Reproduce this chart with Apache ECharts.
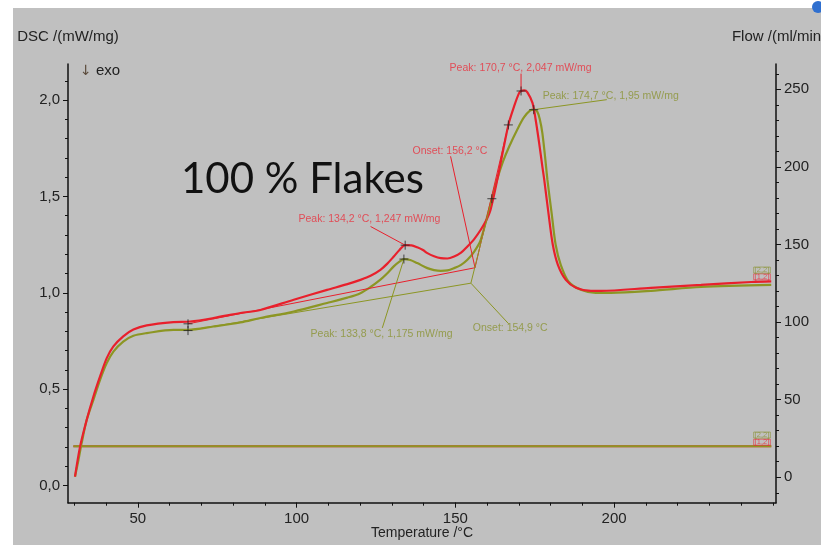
<!DOCTYPE html>
<html>
<head>
<meta charset="utf-8">
<script src="https://cdn.jsdelivr.net/npm/echarts@6/dist/echarts.min.js"></script>
<style>
html,body{margin:0;padding:0;background:#ffffff;}
#c{width:821px;height:545px;}
</style>
</head>
<body>
<div id="c"></div>
<script>
// ---------- data ----------
const tempMajorTicks = [50, 100, 150, 200];
const tempMinorTicks = [30, 40, 50, 60, 70, 80, 90, 100, 110, 120, 130, 140, 150, 160, 170, 180, 190, 200, 210, 220, 230, 240, 250];
const dscMajorTicks = [0, 0.5, 1.0, 1.5, 2.0];
const dscMinorTicks = [0, 0.1, 0.2, 0.3, 0.4, 0.5, 0.6, 0.7, 0.8, 0.9, 1.0, 1.1, 1.2, 1.3, 1.4, 1.5, 1.6, 1.7, 1.8, 1.9, 2.0, 2.1];
const flowMajorTicks = [0, 50, 100, 150, 200, 250];
const flowMinorTicks = [-10, 0, 10, 20, 30, 40, 50, 60, 70, 80, 90, 100, 110, 120, 130, 140, 150, 160, 170, 180, 190, 200, 210, 220, 230, 240, 250, 260];

// DSC curve, sample [1,2] (red)
const redTemp = [30.2, 31.8, 33.9, 36.0, 38.1, 40.2, 42.3, 45.4, 48.6, 52.8, 61.2, 66.5, 73.8, 82.3, 88.6, 99.1, 109.6, 116.0, 120.1, 123.3, 126.4, 128.5, 130.6, 132.4, 134.2, 136.2, 138.0, 139.8, 141.2, 143.3, 145.4, 147.5, 149.6, 151.8, 153.8, 156.0, 158.0, 159.7, 161.1, 163.5, 166.7, 168.5, 170.1, 170.7, 171.7, 172.7, 174.3, 175.3, 176.4, 177.4, 178.0, 179.4, 180.7, 182.3, 184.8, 188.0, 192.7, 195.8, 211.6, 227.4, 243.2, 249.5];
const redDsc  = [0.046, 0.202, 0.341, 0.462, 0.566, 0.661, 0.722, 0.774, 0.809, 0.831, 0.848, 0.851, 0.869, 0.895, 0.911, 0.964, 1.015, 1.045, 1.067, 1.088, 1.119, 1.150, 1.188, 1.222, 1.247, 1.246, 1.236, 1.222, 1.206, 1.190, 1.180, 1.178, 1.188, 1.208, 1.240, 1.280, 1.327, 1.375, 1.431, 1.610, 1.871, 1.967, 2.037, 2.047, 2.050, 2.040, 1.985, 1.898, 1.777, 1.656, 1.587, 1.404, 1.249, 1.145, 1.067, 1.026, 1.010, 1.010, 1.026, 1.041, 1.056, 1.059];

// DSC curve, sample [2,2] (olive)
const oliveTemp = [30.2, 31.3, 32.3, 33.9, 36.0, 38.1, 40.2, 42.3, 45.4, 48.6, 52.8, 61.2, 65.8, 73.8, 82.3, 88.6, 99.1, 109.6, 116.0, 120.1, 123.3, 126.4, 128.5, 130.6, 132.3, 133.8, 135.8, 138.0, 141.2, 143.3, 145.4, 147.5, 149.6, 151.8, 153.8, 156.0, 158.0, 161.5, 163.2, 165.0, 167.0, 169.6, 171.6, 173.5, 174.7, 175.8, 176.6, 177.4, 178.3, 179.0, 180.4, 181.6, 183.2, 185.7, 189.5, 194.2, 199.0, 211.6, 227.4, 249.5];
const oliveDsc  = [0.046, 0.133, 0.220, 0.341, 0.444, 0.548, 0.635, 0.695, 0.747, 0.777, 0.791, 0.808, 0.808, 0.825, 0.846, 0.869, 0.903, 0.947, 0.975, 0.998, 1.030, 1.068, 1.100, 1.137, 1.160, 1.175, 1.170, 1.154, 1.128, 1.118, 1.114, 1.116, 1.128, 1.145, 1.171, 1.215, 1.275, 1.488, 1.590, 1.680, 1.760, 1.850, 1.910, 1.945, 1.950, 1.940, 1.900, 1.830, 1.700, 1.587, 1.404, 1.249, 1.145, 1.057, 1.016, 1.000, 1.000, 1.010, 1.030, 1.041];

// Flow curves (ml/min)
const flowTemp = [29.7, 249.5];
const redFlow = [20, 20];
const oliveFlow = [20, 20];

// Evaluation marks (+): [temperature, dsc]
const redMarks = [[65.8, 0.839], [134.2, 1.247], [166.7, 1.871], [170.7, 2.047]];
const oliveMarks = [[65.8, 0.804], [133.8, 1.175], [161.5, 1.488], [174.7, 1.95]];

// Evaluation lines (baseline, tangent, leaders): pairs of [temperature, dsc]
const redLines = [
  [[65.8, 0.839], [156.2, 1.13]],
  [[156.2, 1.13], [166.7, 1.871]],
  [[148.5, 1.708], [156.2, 1.13]],
  [[170.7, 2.137], [170.7, 2.047]],
  [[123.3, 1.344], [134.2, 1.247]]
];
const oliveLines = [
  [[65.8, 0.804], [154.9, 1.05]],
  [[154.9, 1.05], [161.5, 1.488]],
  [[154.9, 1.05], [166.8, 0.839]],
  [[174.7, 1.95], [197.7, 2.002]],
  [[133.8, 1.175], [127.0, 0.818]]
];

// Evaluation texts: [temperature, dsc, text]
const redTexts = [
  [148.2, 2.168, 'Peak: 170,7 °C, 2,047 mW/mg'],
  [136.5, 1.737, 'Onset: 156,2 °C'],
  [100.6, 1.384, 'Peak: 134,2 °C, 1,247 mW/mg']
];
const oliveTexts = [
  [177.5, 2.021, 'Peak: 174,7 °C, 1,95 mW/mg'],
  [104.4, 0.787, 'Peak: 133,8 °C, 1,175 mW/mg'],
  [155.5, 0.818, 'Onset: 154,9 °C']
];

// curve tags
const dscTags = [[246.6, 1.083, '[1,2]', 'red'], [246.6, 1.118, '[2,2]', 'olive']];
const flowTags = [[246.6, 22.6, '[1,2]', 'red'], [246.6, 27.2, '[2,2]', 'olive']];

// ---------- style ----------
const RED = '#e8202c';
const OLIVE = '#8c9624';
const RED_TXT = '#e8303c';
const OLIVE_TXT = '#8a9232';
const AX = '#111111';
const FONT = 'Liberation Sans, Arial, sans-serif';

const zip = (a, b) => a.map((v, i) => [v, b[i]]);
const fmtDsc = v => v.toFixed(1).replace('.', ',');

const series = [];
series.push({ type: 'line', yAxisIndex: 1, data: zip(flowTemp, redFlow), showSymbol: false, lineStyle: { color: RED, width: 2 }, silent: true, z: 2 });
series.push({ type: 'line', yAxisIndex: 1, data: zip(flowTemp, oliveFlow), showSymbol: false, lineStyle: { color: OLIVE, width: 2 }, silent: true, z: 3 });
series.push({ type: 'line', data: zip(oliveTemp, oliveDsc), showSymbol: false, smooth: 0.3, lineStyle: { color: OLIVE, width: 2.2 }, silent: true, z: 3 });
series.push({ type: 'line', data: zip(redTemp, redDsc), showSymbol: false, smooth: 0.3, lineStyle: { color: RED, width: 2.2 }, silent: true, z: 4 });
redLines.forEach(seg => series.push({ type: 'line', data: seg, showSymbol: false, lineStyle: { color: RED, width: 1 }, silent: true, z: 5 }));
oliveLines.forEach(seg => series.push({ type: 'line', data: seg, showSymbol: false, lineStyle: { color: OLIVE, width: 1 }, silent: true, z: 5 }));
series.push({
  type: 'scatter', data: redMarks.concat(oliveMarks), symbol: 'path://M0,5L10,5M5,0L5,10', symbolSize: 9,
  itemStyle: { color: 'rgba(0,0,0,0)', borderColor: '#222', borderWidth: 1 }, silent: true, z: 6
});
series.push({
  type: 'scatter', symbolSize: 0, silent: true, z: 7,
  data: redTexts.map(d => ({ value: [d[0], d[1]], label: { color: RED_TXT, formatter: d[2] } }))
    .concat(oliveTexts.map(d => ({ value: [d[0], d[1]], label: { color: OLIVE_TXT, formatter: d[2] } }))),
  label: { show: true, position: 'right', distance: 0, fontSize: 10.5, fontFamily: FONT }
});
const tagItem = d => ({
  value: [d[0], d[1]],
  label: { formatter: d[2], color: d[3] === 'red' ? RED_TXT : OLIVE_TXT, borderColor: d[3] === 'red' ? RED_TXT : OLIVE_TXT }
});
series.push({
  type: 'scatter', symbolSize: 0, silent: true, z: 7, data: dscTags.map(tagItem),
  label: { show: true, position: 'inside', fontSize: 7.5, fontFamily: FONT, borderWidth: 0.8, padding: [0, 1, -1, 1], lineHeight: 7 }
});
series.push({
  type: 'scatter', symbolSize: 0, silent: true, z: 7, yAxisIndex: 1, data: flowTags.map(tagItem),
  label: { show: true, position: 'inside', fontSize: 7.5, fontFamily: FONT, borderWidth: 0.8, padding: [0, 1, -1, 1], lineHeight: 7 }
});

const X_MIN = 28, X_MAX = 251;
const Y_MIN = -0.089, Y_MAX = 2.187;
const F_MIN = -16.4, F_MAX = 266.3;

const axText = { color: '#222', fontSize: 15, fontFamily: FONT };

const option = {
  backgroundColor: '#ffffff',
  animation: false,
  grid: { left: 68, right: 45, top: 64, bottom: 42.3, containLabel: false, outerBoundsMode: 'none' },
  xAxis: [
    {
      type: 'value', min: X_MIN, max: X_MAX, position: 'bottom',
      name: 'Temperature /°C', nameLocation: 'middle', nameGap: 30, nameMoveOverlap: false,
      nameTextStyle: { color: '#222', fontSize: 14, fontFamily: FONT, verticalAlign: 'middle' },
      axisLine: { show: true, onZero: false, lineStyle: { color: AX, width: 1.5 } },
      axisTick: { show: true, length: 5, customValues: tempMajorTicks, lineStyle: { color: AX } },
      axisLabel: { show: true, customValues: tempMajorTicks, margin: 9, ...axText },
      splitLine: { show: false }
    },
    {
      type: 'value', min: X_MIN, max: X_MAX, position: 'bottom',
      axisLine: { show: false, onZero: false },
      axisTick: { show: true, length: 3, customValues: tempMinorTicks, lineStyle: { color: AX } },
      axisLabel: { show: false }, splitLine: { show: false }
    }
  ],
  yAxis: [
    {
      type: 'value', min: Y_MIN, max: Y_MAX, position: 'left',
      name: 'DSC /(mW/mg)', nameLocation: 'end', nameGap: 20, nameTextStyle: { color: '#222', fontSize: 15, fontFamily: FONT },
      axisLine: { show: true, onZero: false, lineStyle: { color: AX, width: 1.5 } },
      axisTick: { show: true, length: 5, customValues: dscMajorTicks, lineStyle: { color: AX } },
      axisLabel: { show: true, customValues: dscMajorTicks, margin: 8, formatter: fmtDsc, ...axText },
      splitLine: { show: false }
    },
    {
      type: 'value', min: F_MIN, max: F_MAX, position: 'right',
      name: 'Flow /(ml/min)', nameLocation: 'end', nameGap: 20, nameTextStyle: { color: '#222', fontSize: 15, fontFamily: FONT, padding: [0, 0, 0, 6] },
      axisLine: { show: true, onZero: false, lineStyle: { color: AX, width: 1.5 } },
      axisTick: { show: true, length: 5, customValues: flowMajorTicks, lineStyle: { color: AX } },
      axisLabel: { show: true, customValues: flowMajorTicks, margin: 8, ...axText },
      splitLine: { show: false }
    },
    {
      type: 'value', min: Y_MIN, max: Y_MAX, position: 'left',
      axisLine: { show: false, onZero: false },
      axisTick: { show: true, length: 3, customValues: dscMinorTicks, lineStyle: { color: AX } },
      axisLabel: { show: false }, splitLine: { show: false }
    },
    {
      type: 'value', min: F_MIN, max: F_MAX, position: 'right',
      axisLine: { show: false, onZero: false },
      axisTick: { show: true, length: 3, customValues: flowMinorTicks, lineStyle: { color: AX } },
      axisLabel: { show: false }, splitLine: { show: false }
    }
  ],
  graphic: [
    { type: 'rect', z: -100, silent: true, shape: { x: 13, y: 8, width: 808, height: 537 }, style: { fill: '#c0c0c0' } },
    { type: 'circle', z: 100, silent: true, shape: { cx: 818, cy: 7, r: 6 }, style: { fill: '#2f6fcf' } },
    { type: 'text', z: 100, silent: true, x: 80, y: 71,
      style: { text: '{a|↓} exo', fill: '#222', font: '15px ' + FONT, verticalAlign: 'middle', rich: { a: { fill: '#5a4a3a', fontSize: 14, fontFamily: 'DejaVu Sans' } } } },
    { type: 'text', z: 100, silent: true, x: 181, y: 179,
      style: { text: '100 % Flakes', fill: '#111', font: '42px Lato, sans-serif', verticalAlign: 'middle' } }
  ],
  series: series
};

const chart = echarts.init(document.getElementById('c'), null, { renderer: 'canvas' });
chart.setOption(option);
</script>
</body>
</html>
